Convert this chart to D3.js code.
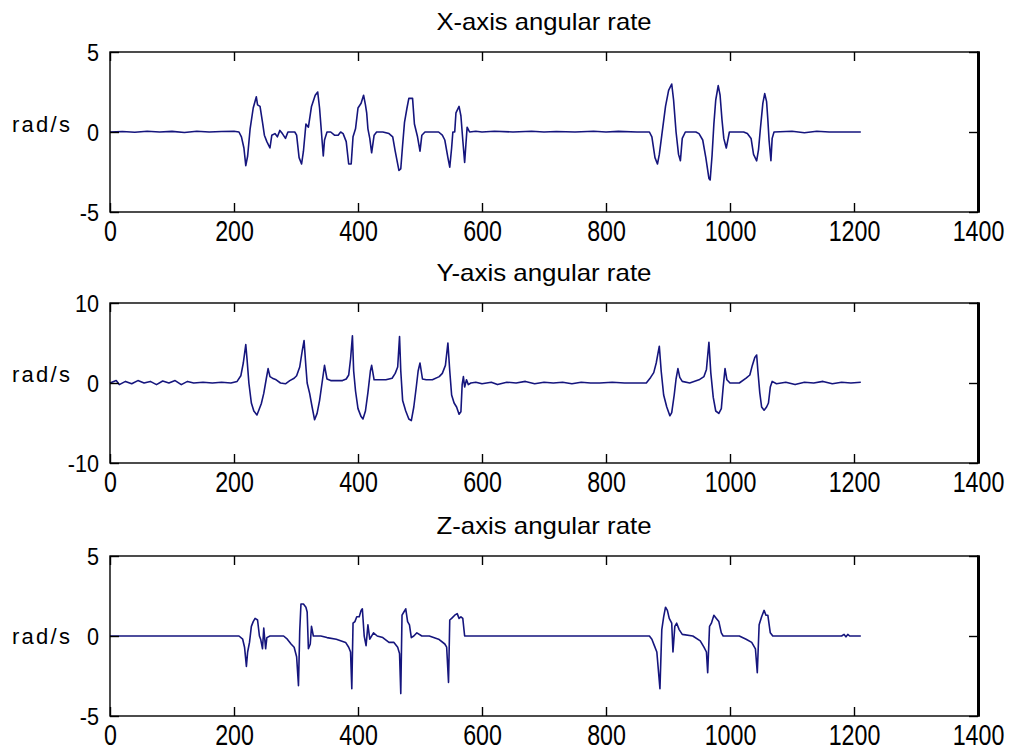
<!DOCTYPE html>
<html><head><meta charset="utf-8">
<script src="https://cdn.jsdelivr.net/npm/d3@7"></script>
<style>body{margin:0;background:#fff}</style>
</head><body>
<svg id="c" width="1011" height="752"></svg>
<script>
// ---------------- data ----------------
const xTicks = [0, 200, 400, 600, 800, 1000, 1200, 1400];
const titles = ["X-axis angular rate", "Y-axis angular rate", "Z-axis angular rate"];
const yDomains = [[-5, 5], [-10, 10], [-5, 5]];
const yTicks = [[-5, 0, 5], [-10, 0, 10], [-5, 0, 5]];
const yLabel = "rad/s";

// [sample, rad/s]
const xRate = [[0,0],[20,0.03],[40,-0.02],[60,0.05],[80,0],[100,0.04],[120,-0.03],[140,0.05],[160,0],[180,0.03],[200,0.05],[208,0],[212,-0.3],[216,-1.0],[219,-2.1],[222,-1.5],[226,0.2],[231,1.5],[236,2.2],[238,1.7],[242,1.6],[246,0.6],[249,-0.2],[253,-0.6],[258,-1.0],[261,-0.2],[266,-0.1],[270,-0.3],[274,0.1],[278,-0.1],[283,-0.4],[287,0],[293,0],[298,0],[301,-0.2],[305,-1.6],[309,-2.0],[312,-1.2],[316,0.5],[320,0.3],[325,1.6],[331,2.3],[335,2.5],[338,1.5],[341,0],[344,-1.5],[346,-0.5],[350,0],[356,0],[362,-0.2],[368,-0.2],[372,0],[376,-0.1],[381,-0.6],[385,-2.0],[389,-2.0],[392,-0.3],[396,0.2],[400,1.5],[405,1.8],[409,2.3],[412,1.7],[414,1.2],[416,0.2],[419,-0.4],[422,-1.3],[426,-0.2],[430,0],[440,0],[450,-0.1],[456,-0.3],[460,-1.2],[466,-2.4],[469,-2.3],[472,-0.8],[475,0.6],[479,1.5],[482,2.1],[488,2.1],[491,0.5],[496,-0.3],[500,-1.2],[503,-0.2],[508,0],[520,0],[530,0],[536,-0.2],[540,-0.5],[545,-1.6],[548,-2.2],[551,-1.0],[553,0],[556,0],[558,1.2],[563,1.6],[566,1.0],[569,-0.5],[572,-1.9],[574,-0.8],[576,0.3],[580,0],[590,0.05],[600,0],[620,0.05],[650,0],[680,0.05],[700,0],[720,0.03],[750,0],[780,0.05],[800,0],[820,0.04],[850,0],[870,0],[874,-0.3],[879,-1.6],[883,-2.0],[886,-1.4],[890,-0.2],[896,1.6],[901,2.6],[906,3.0],[909,2.0],[913,0],[917,-1.4],[920,-1.8],[923,-0.4],[928,0],[935,0],[945,0],[950,-0.1],[956,-0.5],[961,-1.6],[966,-2.9],[968,-3.0],[971,-1.5],[974,0.5],[977,2.0],[981,2.9],[984,2.3],[987,0.8],[990,-0.4],[994,-1.0],[996,-0.6],[999,0],[1010,0],[1022,0],[1028,-0.1],[1034,-0.4],[1038,-1.4],[1043,-1.8],[1046,-1.1],[1049,0.2],[1053,1.8],[1056,2.4],[1059,1.9],[1061,0.8],[1063,-0.5],[1066,-1.8],[1068,-0.4],[1071,0],[1100,0.05],[1120,-0.05],[1140,0.05],[1160,0],[1180,0],[1211,0]];

const yRate = [[0,0],[10,0.3],[15,-0.2],[25,0.2],[35,-0.1],[45,0.3],[55,0],[65,0.2],[75,-0.2],[85,0.25],[95,0],[105,0.3],[115,-0.2],[125,0.2],[135,0],[150,0.1],[165,0],[180,0.1],[195,0],[205,0.2],[211,0.9],[215,2.5],[219,4.8],[221,3.0],[224,0],[228,-2.5],[232,-3.5],[237,-4.0],[240,-3.4],[244,-2.6],[248,-1.3],[252,0.5],[255,1.8],[258,0.8],[262,0.6],[268,0.4],[275,0],[283,-0.1],[290,0.3],[297,0.6],[301,0.9],[306,2.0],[310,4.0],[313,5.3],[316,2.0],[318,0],[322,-1.3],[326,-3.0],[330,-4.6],[334,-3.8],[338,-2.2],[342,0],[346,2.2],[350,0.5],[356,0.3],[365,0.3],[375,0.3],[381,0.5],[385,1.0],[388,3.0],[391,5.9],[393,1.5],[396,-1.0],[400,-3.2],[405,-4.2],[408,-4.5],[412,-3.5],[416,-1.2],[420,1.5],[422,2.2],[426,0.4],[435,0.4],[445,0.4],[455,0.6],[460,1.2],[464,2.0],[467,5.8],[469,1.5],[472,-2.2],[477,-3.5],[482,-4.5],[486,-4.7],[490,-3.0],[494,-0.5],[497,1.5],[500,2.5],[504,0.5],[510,0.4],[520,0.4],[531,0.8],[536,1.2],[541,2.2],[545,5.0],[548,1.5],[551,-1.5],[555,-2.5],[559,-3.0],[563,-3.9],[566,-3.6],[568,-0.2],[570,0.8],[572,-0.5],[575,0.4],[578,-0.2],[582,0],[590,0.1],[600,-0.1],[615,0.1],[625,-0.2],[640,0.1],[655,0],[670,0.2],[685,-0.1],[700,0.1],[715,0],[730,0.1],[745,-0.1],[760,0.1],[775,0],[790,0],[810,0.1],[830,0],[850,0],[865,0],[872,0.7],[877,1.3],[881,2.5],[886,4.6],[889,1.5],[893,-1.5],[898,-3.0],[903,-4.1],[906,-3.7],[910,-1.5],[913,0.5],[916,1.8],[919,0.7],[923,0.2],[935,0],[950,0.4],[958,0.8],[962,1.7],[966,5.1],[969,1.3],[973,-1.8],[977,-3.5],[982,-3.8],[986,-3.2],[989,-0.5],[992,1.8],[995,0.4],[1000,0],[1015,0],[1026,0.6],[1032,1.0],[1036,2.2],[1040,3.2],[1043,3.5],[1045,1.5],[1048,-1.2],[1051,-3.0],[1055,-3.4],[1059,-3.0],[1062,-2.5],[1065,-0.5],[1068,0.2],[1075,-0.1],[1090,0.1],[1105,-0.2],[1120,0.1],[1135,0],[1150,0.2],[1165,-0.1],[1180,0.1],[1195,0],[1211,0.1]];

const zRate = [[0,0],[208,0],[214,-0.2],[217,-0.7],[220,-1.9],[222,-1.0],[225,-0.4],[228,0.6],[231,0.9],[234,1.1],[238,1.0],[241,0],[243,-0.2],[246,-0.8],[248,0.5],[251,-0.8],[253,-0.1],[258,0],[270,0],[280,0],[286,-0.2],[292,-0.5],[297,-0.7],[301,-1.3],[304,-3.1],[306,0.3],[308,2.0],[312,2.0],[316,1.8],[318,1.5],[320,-0.8],[323,-0.5],[325,0.6],[328,0],[333,0],[340,0],[350,-0.1],[365,-0.2],[380,-0.4],[385,-0.7],[388,-1.0],[390,-3.3],[392,0.8],[395,0.9],[398,1.2],[402,1.2],[405,1.6],[407,1.7],[410,0],[413,-0.6],[416,0.7],[419,-0.2],[425,0.2],[431,0],[440,-0.1],[450,-0.4],[458,-0.4],[464,-0.7],[467,-1.1],[469,-3.6],[471,1.3],[474,1.5],[477,1.7],[480,0.9],[483,0.7],[486,-0.1],[490,0],[495,0.2],[503,0],[515,0],[530,-0.2],[540,-0.5],[543,-0.7],[546,-2.9],[548,1.0],[551,1.1],[556,1.3],[560,1.4],[563,1.1],[566,1.2],[569,1.1],[572,0],[576,0],[580,0],[870,0],[874,-0.2],[878,-0.6],[882,-1.0],[887,-3.3],[890,0.4],[893,1.2],[896,1.8],[899,1.6],[902,1.1],[906,0.8],[908,-1.0],[911,0.6],[914,0.8],[918,0.4],[923,0.1],[940,0],[952,-0.3],[958,-0.7],[962,-1.0],[964,-2.3],[967,0.6],[970,0.8],[974,1.3],[978,1.1],[982,0.9],[986,0.2],[989,0],[1000,0],[1015,0],[1026,-0.2],[1035,-0.4],[1041,-0.8],[1044,-2.3],[1047,0.7],[1051,1.2],[1055,1.6],[1058,1.3],[1061,1.3],[1065,0.2],[1069,0],[1080,0],[1180,0],[1184,0.1],[1187,-0.05],[1190,0.1],[1193,0],[1211,0]];

const series = [xRate, yRate, zRate];

// ---------------- layout ----------------
const W = 1011, H = 752;
const left = 110, right = 978, plotH = 160;
const tops = [52, 303, 556];
const labelOffsets = [-8, -9, 0];
const lineColor = "#15157d";
const font = "'Liberation Sans', Arial, sans-serif";
const xLabelScale = 0.8, yLabelScale = 0.9;

const svg = d3.select("#c");
svg.append("rect").attr("width", W).attr("height", H).attr("fill", "#fff");

const x = d3.scaleLinear().domain([0, 1400]).range([left, right]);

series.forEach((data, i) => {
  const top = tops[i], bottom = top + plotH;
  const y = d3.scaleLinear().domain(yDomains[i]).range([bottom, top]);
  const g = svg.append("g");

  // data line
  g.append("path")
    .datum(data)
    .attr("fill", "none")
    .attr("stroke", lineColor)
    .attr("stroke-width", 1.6)
    .attr("stroke-linejoin", "round")
    .attr("d", d3.line().x(d => x(d[0])).y(d => y(d[1])));

  // box
  g.append("rect").attr("x", left).attr("y", top)
    .attr("width", right - left).attr("height", plotH)
    .attr("fill", "none").attr("stroke", "#000").attr("stroke-width", 1.4);
  g.append("line").attr("x1", right + 0.5).attr("x2", right + 0.5)
    .attr("y1", top - 0.7).attr("y2", bottom + 0.7)
    .attr("stroke", "#000").attr("stroke-width", 3);

  const styleAxis = sel => {
    sel.select(".domain").remove();
    sel.selectAll(".tick line").attr("stroke", "#000").attr("stroke-width", 1.4);
  };

  // bottom axis with labels
  const ax = g.append("g").attr("transform", `translate(0,${bottom})`)
    .call(d3.axisBottom(x).tickValues(xTicks).tickSize(-9).tickFormat(d => String(d)));
  styleAxis(ax);
  ax.selectAll(".tick text")
    .attr("x", 0).attr("y", 29).attr("dy", 0)
    .attr("fill", "#000")
    .attr("transform", `scale(${xLabelScale},1)`)
    .style("font-family", font).style("font-size", "29px");

  // top axis
  const at = g.append("g").attr("transform", `translate(0,${top})`)
    .call(d3.axisTop(x).tickValues(xTicks).tickSize(-9).tickFormat(""));
  styleAxis(at);

  // left axis with labels
  const al = g.append("g").attr("transform", `translate(${left},0)`)
    .call(d3.axisLeft(y).tickValues(yTicks[i]).tickSize(-9).tickFormat(d => String(d)));
  styleAxis(al);
  al.selectAll(".tick text")
    .attr("x", -11 / yLabelScale).attr("dy", "0.36em")
    .attr("text-anchor", "end")
    .attr("fill", "#000")
    .attr("transform", `scale(${yLabelScale},1)`)
    .style("font-family", font).style("font-size", "24px");

  // right axis
  const ar = g.append("g").attr("transform", `translate(${right},0)`)
    .call(d3.axisRight(y).tickValues(yTicks[i]).tickSize(-9).tickFormat(""));
  styleAxis(ar);

  // title
  g.append("text")
    .attr("x", (left + right) / 2).attr("y", top - 22)
    .attr("text-anchor", "middle")
    .style("font-family", font).style("font-size", "24px")
    .attr("textLength", 215).attr("lengthAdjust", "spacingAndGlyphs")
    .attr("fill", "#000")
    .text(titles[i]);

  // y label
  g.append("text")
    .attr("x", 12).attr("y", y(0) + labelOffsets[i])
    .attr("dy", "0.36em")
    .style("font-family", font).style("font-size", "22px")
    .attr("textLength", 58).attr("lengthAdjust", "spacing")
    .attr("fill", "#000")
    .text(yLabel);
});
</script>
</body></html>
